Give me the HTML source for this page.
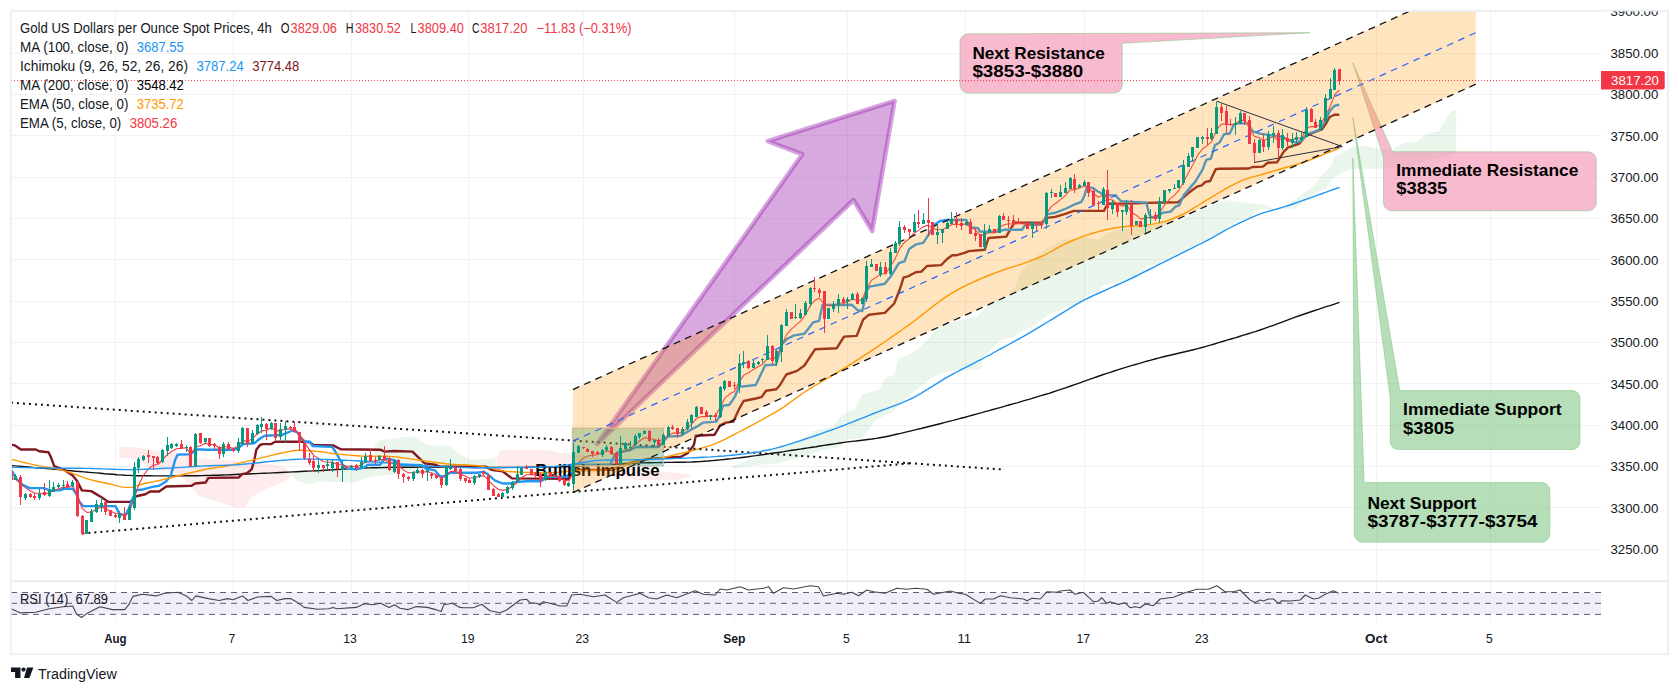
<!DOCTYPE html>
<html><head><meta charset="utf-8"><title>Gold chart</title><style>html,body{margin:0;padding:0;background:#fff}body{width:1679px;height:693px;overflow:hidden}</style></head><body>
<svg width="1679" height="693" viewBox="0 0 1679 693" style="display:block;font-family:'Liberation Sans',sans-serif">
<rect width="1679" height="693" fill="#fff"/>
<g stroke="#f1f2f3" stroke-width="1" shape-rendering="crispEdges">
<line x1="115.4" y1="11" x2="115.4" y2="621.5"/>
<line x1="233.0" y1="11" x2="233.0" y2="621.5"/>
<line x1="351.0" y1="11" x2="351.0" y2="621.5"/>
<line x1="468.7" y1="11" x2="468.7" y2="621.5"/>
<line x1="583.3" y1="11" x2="583.3" y2="621.5"/>
<line x1="734.4" y1="11" x2="734.4" y2="621.5"/>
<line x1="847.5" y1="11" x2="847.5" y2="621.5"/>
<line x1="965.3" y1="11" x2="965.3" y2="621.5"/>
<line x1="1084.3" y1="11" x2="1084.3" y2="621.5"/>
<line x1="1202.8" y1="11" x2="1202.8" y2="621.5"/>
<line x1="1376.2" y1="11" x2="1376.2" y2="621.5"/>
<line x1="1490.5" y1="11" x2="1490.5" y2="621.5"/>
<line x1="11" y1="549.5" x2="1601" y2="549.5"/>
<line x1="11" y1="507.5" x2="1601" y2="507.5"/>
<line x1="11" y1="466.5" x2="1601" y2="466.5"/>
<line x1="11" y1="425.5" x2="1601" y2="425.5"/>
<line x1="11" y1="383.5" x2="1601" y2="383.5"/>
<line x1="11" y1="342.5" x2="1601" y2="342.5"/>
<line x1="11" y1="301.5" x2="1601" y2="301.5"/>
<line x1="11" y1="259.5" x2="1601" y2="259.5"/>
<line x1="11" y1="218.5" x2="1601" y2="218.5"/>
<line x1="11" y1="177.5" x2="1601" y2="177.5"/>
<line x1="11" y1="135.5" x2="1601" y2="135.5"/>
<line x1="11" y1="94.5" x2="1601" y2="94.5"/>
<line x1="11" y1="53.5" x2="1601" y2="53.5"/>
<line x1="11" y1="11.5" x2="1601" y2="11.5"/>
</g>
<defs><clipPath id="pc"><rect x="12" y="12" width="1589" height="569"/></clipPath></defs>
<g clip-path="url(#pc)">
<polygon points="119.4,446.8 138.7,447.4 149.1,449.8 174.4,452.8 204.2,458.7 248.9,461.7 275.7,464.7 286.1,467.6 290.6,472.1 290.6,475.1 287.6,479.6 278.7,484.0 266.8,488.5 250.7,497.6 245.0,507.0 237.5,507.9 219.1,502.0 198.3,495.9 189.3,484.0 174.4,472.1 150.6,467.6 135.7,458.7 119.4,458.1" fill="rgba(242,54,69,0.10)"/>
<polygon points="497.0,458.0 500.0,450.3 551.0,450.3 560.0,453.0 573.0,453.5 600.0,458.0 640.0,470.0 690.0,474.0 690.0,476.0 680.0,480.0 640.0,480.0 600.0,475.0 573.0,470.0 540.0,467.0 497.0,467.0" fill="rgba(242,54,69,0.10)"/>
<polygon points="291.0,472.2 331.4,470.4 368.9,468.5 373.6,456.3 375.5,445.0 380.1,440.3 395.2,438.5 401.3,437.5 412.5,436.6 420.0,440.3 427.5,445.0 450.0,446.0 459.4,454.4 470.7,459.7 491.3,458.5 494.2,456.3 497.0,462.0 494.0,467.5 427.5,468.5 408.8,471.3 390.0,475.0 376.4,476.0 363.3,478.8 355.8,482.6 320.1,481.6 308.8,484.4 297.6,480.7 291.0,475.0" fill="rgba(67,160,71,0.11)"/>
<polygon points="732.2,466.5 768.3,452.1 804.4,437.7 815.2,430.4 833.2,426.8 840.4,416.0 854.9,408.8 862.1,394.4 880.1,388.9 885.5,378.1 894.6,374.5 898.2,358.3 909.0,354.7 919.8,347.4 927.1,340.2 937.9,327.6 959.5,320.4 977.6,316.8 983.0,309.5 995.6,300.5 1006.4,296.9 1015.5,286.1 1020.9,271.7 1028.1,264.5 1033.8,258.3 1046.8,247.9 1062.3,240.1 1085.7,237.5 1098.7,240.1 1106.5,233.6 1135.0,225.8 1155.8,224.5 1181.8,219.4 1202.6,209.0 1226.0,199.9 1240.0,202.2 1263.1,204.6 1274.6,209.4 1287.6,205.0 1297.7,197.8 1304.9,192.0 1315.0,184.8 1320.8,176.2 1326.6,171.1 1332.4,163.2 1333.8,157.4 1341.0,153.1 1346.8,150.2 1352.6,146.6 1364.1,145.9 1374.2,148.0 1380.0,148.8 1393.0,150.6 1395.2,147.3 1403.9,143.0 1416.8,141.9 1425.5,134.4 1438.5,131.1 1443.9,122.5 1449.3,113.8 1452.5,110.6 1456.2,109.9 1456.2,151.7 1449.3,155.0 1401.7,168.3 1351.1,169.0 1346.8,170.4 1341.0,173.3 1332.4,179.1 1326.6,187.7 1315.0,193.5 1306.4,200.7 1300.6,205.0 1294.8,208.6 1274.6,210.1 1263.1,209.1 1254.4,212.3 1251.5,216.6 1240.0,220.2 1228.6,225.8 1223.4,232.3 1202.6,241.4 1181.8,251.8 1155.8,264.8 1145.5,266.1 1142.9,273.9 1135.1,279.1 1114.3,283.0 1101.3,285.6 1098.7,292.1 1085.7,296.0 1083.1,302.5 1067.5,306.4 1062.3,310.3 1051.9,312.9 1041.6,319.4 1033.8,325.8 1019.5,332.3 1015.6,336.2 1000.0,340.0 983.0,358.3 981.2,369.1 948.7,370.9 934.3,376.3 912.6,392.5 891.0,412.4 876.5,419.6 862.1,437.7 847.7,439.5 840.4,446.7 822.4,450.3 804.4,455.7 779.1,462.9 732.2,468.3" fill="rgba(67,160,71,0.11)"/>
<polyline points="11.0,465.5 15.4,465.9 19.8,466.2 24.2,466.6 28.6,467.0 33.0,467.4 37.4,467.7 41.8,468.1 46.2,468.5 50.4,468.9 54.6,469.2 58.8,469.6 63.0,470.0 67.2,470.4 71.3,470.8 75.5,471.2 79.7,471.5 83.9,471.9 88.1,472.3 92.3,472.6 96.4,472.9 100.5,473.3 104.6,473.7 108.7,474.0 112.8,474.3 116.9,474.7 121.0,474.9 125.1,475.2 129.2,475.4 133.2,475.6 137.3,475.7 141.3,475.8 145.4,475.8 149.4,475.8 153.5,475.9 157.5,475.9 161.6,475.9 165.6,475.9 169.7,475.9 173.7,475.9 177.7,475.9 181.8,475.9 185.8,475.8 189.8,475.8 193.9,475.7 197.9,475.7 201.9,475.6 206.0,475.5 210.0,475.4 214.2,475.3 218.4,475.2 222.6,475.0 226.8,474.9 231.0,474.7 235.3,474.5 239.5,474.3 243.7,474.2 247.9,474.0 252.1,473.8 256.3,473.6 260.3,473.4 264.3,473.2 268.4,473.1 272.4,472.9 276.4,472.7 280.4,472.5 284.5,472.3 288.5,472.1 292.5,471.9 296.5,471.7 300.5,471.5 304.6,471.3 308.6,471.1 312.6,470.9 316.6,470.7 320.6,470.5 324.7,470.2 328.7,470.0 332.7,469.8 336.7,469.5 340.8,469.3 344.8,469.0 348.8,468.8 352.8,468.6 356.8,468.4 360.9,468.2 364.9,468.0 368.9,467.9 373.0,467.8 377.1,467.7 381.2,467.6 385.3,467.5 389.4,467.4 393.6,467.4 397.7,467.3 401.8,467.3 405.9,467.2 410.0,467.2 414.1,467.2 418.2,467.1 422.3,467.1 426.4,467.1 430.5,467.1 434.5,467.1 438.6,467.2 442.7,467.2 446.8,467.2 450.9,467.3 455.0,467.3 459.1,467.3 463.2,467.4 467.3,467.4 471.4,467.5 475.5,467.5 479.5,467.5 483.6,467.5 487.7,467.5 491.8,467.5 495.9,467.5 500.0,467.5 504.1,467.5 508.1,467.4 512.2,467.4 516.2,467.4 520.3,467.4 524.3,467.4 528.4,467.3 532.4,467.3 536.5,467.2 540.6,467.2 544.6,467.1 548.7,467.1 552.7,467.0 556.8,466.9 560.8,466.8 564.9,466.7 568.9,466.5 573.0,466.4 577.1,466.2 581.2,466.0 585.3,465.8 589.4,465.6 593.6,465.4 597.7,465.2 601.8,464.9 605.9,464.7 610.0,464.5 614.5,464.3 619.0,464.0 623.5,463.7 628.0,463.5 632.5,463.3 637.0,463.1 641.5,462.9 645.8,462.8 650.1,462.7 654.4,462.6 658.7,462.6 663.0,462.5 667.1,462.4 671.2,462.4 675.4,462.3 679.5,462.3 683.6,462.2 687.8,462.1 691.9,462.0 696.0,461.8 700.0,461.6 704.0,461.3 708.0,461.0 712.0,460.6 716.0,460.3 720.0,459.9 724.0,459.5 728.0,459.0 732.0,458.6 736.0,458.1 740.0,457.7 744.0,457.2 748.0,456.7 752.0,456.1 756.0,455.6 760.0,455.0 764.0,454.5 768.0,453.9 772.0,453.3 776.0,452.7 780.0,452.2 784.0,451.6 788.0,450.9 792.0,450.3 796.0,449.7 800.0,449.1 804.0,448.5 808.0,447.9 812.0,447.3 816.0,446.7 820.0,446.0 824.0,445.4 828.0,444.8 832.0,444.2 836.0,443.6 840.0,443.0 844.0,442.4 848.0,441.9 852.0,441.4 856.0,441.0 860.0,440.5 864.0,440.0 868.0,439.5 872.0,439.0 876.0,438.4 880.0,437.7 884.0,437.0 888.1,436.2 892.3,435.3 896.4,434.3 900.6,433.4 904.7,432.4 908.9,431.4 913.0,430.4 917.0,429.4 921.0,428.5 925.0,427.5 929.0,426.5 933.0,425.5 937.0,424.5 941.0,423.5 945.0,422.4 949.0,421.4 953.0,420.4 957.0,419.3 961.0,418.2 965.0,417.2 969.0,416.1 973.0,415.0 977.0,413.9 981.0,412.8 985.0,411.7 989.0,410.6 993.0,409.5 997.0,408.4 1001.0,407.3 1005.0,406.2 1009.0,405.0 1013.0,403.9 1017.0,402.8 1021.0,401.6 1025.0,400.4 1029.0,399.3 1033.0,398.1 1037.0,396.9 1041.0,395.7 1045.0,394.5 1049.0,393.3 1053.0,392.0 1057.0,390.7 1061.6,389.2 1066.2,387.6 1070.8,386.0 1075.4,384.4 1080.0,382.8 1084.4,381.2 1088.8,379.7 1093.2,378.1 1097.6,376.5 1102.0,375.0 1106.1,373.6 1110.2,372.3 1114.2,371.0 1118.3,369.7 1122.4,368.4 1126.5,367.2 1130.5,365.9 1134.6,364.7 1138.7,363.6 1142.8,362.4 1146.8,361.2 1150.9,360.1 1155.0,359.0 1159.3,357.9 1163.5,356.8 1167.8,355.8 1172.1,354.8 1176.4,353.8 1180.6,352.8 1184.9,351.8 1189.2,350.8 1193.5,349.7 1197.7,348.6 1202.0,347.5 1206.1,346.3 1210.3,345.2 1214.4,344.0 1218.6,342.7 1222.7,341.5 1226.9,340.2 1231.0,339.0 1235.1,337.8 1239.3,336.5 1243.4,335.2 1247.6,334.0 1251.7,332.7 1255.9,331.4 1260.0,330.0 1264.0,328.6 1268.0,327.2 1272.0,325.8 1276.0,324.3 1280.0,322.8 1284.0,321.3 1288.0,319.8 1292.0,318.4 1296.0,316.9 1300.0,315.5 1304.4,314.0 1308.8,312.5 1313.2,311.0 1317.6,309.6 1321.9,308.2 1326.3,306.7 1330.7,305.3 1335.1,303.8 1339.5,302.4" fill="none" stroke="#111" stroke-width="1.4"/>
<polyline points="11.1,444.7 15.0,445.4 20.8,449.5 35.8,449.5 39.2,451.2 48.5,452.3 50.8,456.9 54.2,466.2 63.5,469.6 72.7,475.4 77.3,481.2 81.9,490.4 91.2,491.1 101.5,497.3 108.5,501.9 130.4,501.9 136.2,496.2 145.4,494.3 150.0,491.5 159.2,491.5 166.2,486.5 191.6,485.8 195.0,483.5 203.1,482.8 205.6,482.6 208.4,477.9 238.5,477.5 242.2,474.1 246.9,473.2 251.6,469.4 254.4,460.0 256.3,449.7 260.0,445.0 262.9,444.1 271.3,444.1 275.1,441.7 305.1,441.7 309.8,442.2 313.5,445.0 333.2,445.4 340.7,449.2 380.1,449.7 384.8,451.6 393.8,451.0 412.5,451.6 418.1,457.2 424.7,463.4 435.0,464.7 439.7,466.6 485.7,466.6 491.3,469.8 502.6,471.3 512.0,478.4 568.3,478.8 572.0,472.2 573.5,470.0 612.0,469.7 620.0,466.4 634.3,461.8 648.6,458.9 663.0,457.9 681.0,456.8 688.0,452.9 693.9,445.0 695.7,435.7 714.5,434.8 720.1,425.4 725.8,422.6 733.3,421.6 738.9,409.4 743.6,401.0 755.8,398.5 761.4,397.2 766.1,390.7 776.4,389.2 780.0,385.0 786.3,374.5 797.1,370.9 804.4,365.5 815.2,349.2 836.8,348.2 844.0,336.6 856.7,335.9 863.2,319.5 868.8,314.8 884.8,312.9 894.2,303.5 899.8,289.5 903.6,277.3 908.2,276.3 915.8,272.2 921.4,271.6 927.0,266.0 941.1,265.1 947.7,258.5 952.3,255.3 956.1,255.3 964.5,252.9 968.8,251.1 984.7,249.8 988.5,238.0 1006.3,236.6 1011.0,228.2 1014.7,222.6 1041.9,222.6 1046.6,217.9 1055.1,216.9 1064.5,214.1 1073.9,210.9 1103.9,210.9 1107.6,203.8 1137.7,203.4 1146.3,202.9 1178.2,202.2 1181.9,198.8 1189.5,192.2 1197.0,186.6 1201.7,185.3 1205.4,181.9 1210.1,181.0 1215.7,169.2 1218.8,168.8 1248.8,168.5 1252.6,167.0 1262.9,166.6 1267.6,162.8 1277.0,162.3 1283.6,151.9 1288.2,147.3 1292.9,145.9 1299.5,143.5 1305.1,136.6 1309.8,134.1 1316.4,131.3 1322.0,129.4 1325.8,123.8 1329.5,117.2 1334.2,114.8 1339.3,114.8" fill="none" stroke="#801922" stroke-width="2.4" stroke-linejoin="round"/>
<polyline points="11.1,469.6 16.2,478.9 23.1,485.1 30.0,488.1 43.8,488.1 49.6,490.4 60.0,490.4 63.5,488.8 72.7,488.8 76.2,493.9 79.6,501.9 83.1,506.1 115.4,506.1 120.0,514.6 125.8,514.6 129.2,507.7 132.7,498.5 136.2,490.4 144.2,489.2 152.3,486.9 159.2,485.8 166.2,481.2 170.8,475.4 175.4,459.2 177.7,454.6 190.4,454.2 196.2,449.5 203.1,449.5 203.8,449.7 232.8,449.7 237.5,448.8 243.2,444.1 254.4,443.2 260.0,438.5 264.7,435.7 275.1,435.3 282.6,434.7 293.8,430.0 297.6,432.8 301.3,438.5 305.1,441.7 309.8,441.7 312.6,446.0 332.3,446.9 337.0,454.4 342.6,464.7 347.3,468.5 355.8,469.4 363.3,467.9 367.9,464.7 380.1,464.7 384.8,458.5 395.2,460.4 398.9,464.7 404.1,464.7 421.9,465.3 425.7,468.5 435.0,470.4 439.7,476.0 444.4,476.6 450.0,472.8 476.3,472.8 483.8,471.9 487.6,474.1 495.1,480.7 502.6,483.5 510.1,483.5 516.0,482.1 525.8,481.3 540.8,481.3 543.0,480.0 545.4,476.9 566.8,476.9 570.8,472.3 571.5,464.8 610.3,464.8 614.1,456.3 616.9,452.6 630.0,450.3 635.7,447.3 645.1,447.0 658.2,447.0 662.9,442.3 667.6,436.6 680.7,435.7 690.1,430.1 697.6,426.3 703.2,422.6 716.4,421.6 720.1,415.1 722.9,405.7 729.5,404.7 735.1,396.3 738.9,386.9 755.8,385.0 765.2,365.3 774.5,364.8 775.9,364.8 781.9,344.1 787.1,338.9 794.1,335.4 804.4,333.7 813.1,322.4 819.1,320.8 822.5,305.0 851.9,304.8 857.6,310.1 862.3,311.0 864.1,302.6 866.0,291.3 869.8,286.6 884.8,283.8 891.4,275.4 898.9,263.2 904.5,261.3 909.2,249.1 915.8,244.4 923.3,242.9 928.9,234.1 934.5,224.7 940.1,221.0 947.7,220.0 966.4,220.0 970.6,227.3 978.1,228.2 980.0,231.6 998.8,231.6 1004.4,229.7 1022.2,229.7 1025.1,224.8 1041.9,224.8 1047.6,214.1 1055.1,212.8 1066.3,208.5 1073.9,204.7 1081.4,201.9 1084.2,196.3 1087.0,186.9 1092.8,187.9 1097.5,191.3 1105.0,195.1 1115.3,195.4 1121.0,201.1 1146.3,202.6 1149.1,213.8 1151.0,217.2 1157.6,217.2 1162.2,212.9 1170.7,211.6 1175.4,206.7 1179.1,205.4 1183.8,195.1 1195.1,181.9 1202.6,169.7 1206.3,159.8 1211.0,158.5 1214.8,145.3 1219.5,142.5 1224.2,134.1 1229.8,133.5 1233.8,124.7 1237.6,123.4 1247.9,123.4 1252.6,131.3 1260.1,133.6 1271.4,135.4 1282.6,136.9 1290.1,140.7 1295.8,142.6 1301.4,140.7 1307.0,134.1 1314.5,131.7 1320.1,129.4 1325.8,120.0 1329.5,111.6 1334.2,106.0 1339.3,104.7" fill="none" stroke="#2196f3" stroke-width="2.4" stroke-linejoin="round"/>
<polyline points="11.0,459.2 15.7,460.4 20.4,461.6 25.2,462.8 29.9,463.9 34.6,465.0 38.9,465.9 43.2,466.6 47.5,467.3 51.7,468.0 56.0,468.8 60.3,469.7 64.6,470.8 69.2,472.3 73.8,473.9 78.5,475.7 83.1,477.4 87.7,478.9 92.3,480.1 96.9,481.2 101.6,482.2 106.2,483.2 110.8,484.2 115.4,485.4 120.0,486.6 124.6,487.4 131.5,487.4 138.5,485.1 143.1,483.8 147.7,482.8 152.4,481.9 157.0,481.0 161.6,480.0 166.2,478.9 170.8,477.7 175.4,476.5 180.0,475.3 184.6,474.2 188.8,473.2 193.1,472.2 197.3,471.2 201.5,470.2 205.8,469.3 210.0,468.5 214.5,467.8 219.1,467.1 223.6,466.5 228.1,465.7 232.1,464.9 236.2,464.0 240.2,463.1 244.2,462.1 248.2,461.1 252.3,460.1 256.3,459.1 260.3,458.1 264.3,457.1 268.3,456.1 272.4,455.1 276.4,454.2 280.4,453.3 284.4,452.5 288.8,451.6 293.2,450.8 297.6,450.3 302.6,450.3 307.6,450.6 312.6,451.0 316.6,451.4 320.6,451.8 324.6,452.3 328.7,452.9 332.7,453.5 336.7,454.0 340.7,454.4 344.7,454.8 348.8,455.1 352.8,455.4 356.8,455.7 360.8,456.0 364.9,456.2 368.9,456.3 373.6,456.3 378.3,456.3 383.0,456.2 387.7,456.3 392.0,456.6 396.4,457.0 400.7,457.5 405.1,458.1 409.4,458.8 413.8,459.4 418.1,460.0 422.1,460.5 426.2,461.1 430.2,461.7 434.2,462.3 438.2,462.8 442.3,463.3 446.3,463.8 450.5,464.2 454.6,464.4 458.8,464.6 463.0,464.8 467.1,465.0 471.3,465.2 475.5,465.5 479.6,466.0 483.8,466.6 488.5,467.6 493.2,468.8 497.9,470.0 502.6,470.9 507.3,471.5 512.0,471.8 516.7,472.0 521.4,472.2 525.6,472.4 529.7,472.5 533.9,472.6 538.1,472.7 542.2,472.7 546.4,472.7 550.6,472.6 554.7,472.4 558.9,472.2 563.6,471.8 568.3,471.3 573.0,470.8 577.7,470.4 582.2,470.2 586.6,470.2 591.1,470.2 595.5,470.1 600.0,470.0 604.0,469.9 608.0,469.9 612.0,469.3 616.0,468.0 620.0,466.5 624.7,465.0 629.3,463.5 634.0,462.3 638.9,461.3 643.7,460.5 648.6,459.7 653.4,459.0 658.2,458.3 663.0,457.5 667.7,456.5 672.3,455.4 677.0,454.3 682.0,453.1 687.0,452.0 692.0,450.7 696.1,449.6 700.1,448.5 704.2,447.4 708.3,446.1 712.3,444.8 716.4,443.2 720.9,441.2 725.4,439.1 729.9,436.7 734.4,434.4 738.9,432.0 743.6,429.6 748.3,427.1 753.0,424.6 757.7,422.0 762.2,419.6 766.6,417.2 771.1,414.7 775.5,412.1 780.0,409.4 784.0,406.8 788.0,403.9 792.0,401.0 796.0,398.1 800.0,395.2 804.0,392.5 808.0,389.9 812.0,387.4 816.0,385.0 820.0,382.7 824.0,380.4 828.0,378.0 832.0,375.7 836.0,373.3 840.0,370.9 844.1,368.4 848.1,365.8 852.2,363.3 856.2,360.7 860.3,358.1 864.3,355.4 868.4,352.8 872.4,350.1 876.5,347.4 880.5,344.7 884.5,342.0 888.5,339.2 892.5,336.4 896.6,333.6 900.6,330.8 904.6,328.0 908.6,325.1 912.6,322.2 916.6,319.2 920.6,316.1 924.6,313.0 928.6,309.8 932.7,306.6 936.7,303.5 940.7,300.6 944.7,297.7 948.7,295.1 952.7,292.7 956.7,290.4 960.7,288.2 964.7,286.1 968.8,284.2 972.8,282.3 976.8,280.5 980.8,278.7 984.8,277.0 989.7,275.0 994.6,273.1 999.5,271.3 1004.4,269.5 1008.5,268.1 1012.6,266.8 1016.8,265.6 1020.9,264.3 1025.0,262.9 1029.7,261.2 1034.4,259.4 1039.1,257.5 1043.8,255.4 1048.5,253.0 1053.2,250.3 1057.9,247.6 1062.6,245.1 1067.1,243.0 1071.6,241.0 1076.1,239.1 1080.6,237.3 1085.1,235.7 1089.2,234.3 1093.4,233.0 1097.5,231.8 1101.7,230.7 1105.8,229.7 1110.3,228.8 1114.8,228.0 1119.3,227.4 1123.8,226.8 1128.3,226.3 1132.8,226.0 1137.3,225.8 1141.8,225.5 1146.3,225.1 1151.0,224.4 1155.7,223.6 1160.4,222.6 1165.1,221.3 1169.8,219.8 1174.4,218.0 1179.1,216.0 1183.8,213.8 1188.5,211.3 1193.2,208.4 1197.9,205.5 1202.6,202.6 1207.3,199.7 1212.0,196.9 1216.7,194.0 1221.4,191.3 1225.9,188.7 1230.4,186.2 1234.9,183.8 1239.4,181.6 1243.9,179.7 1248.9,178.1 1253.9,176.7 1258.9,175.4 1263.6,174.0 1268.3,172.5 1273.0,171.1 1277.7,169.7 1282.2,168.5 1286.6,167.3 1291.1,166.1 1295.5,164.9 1300.0,163.5 1304.2,162.1 1308.4,160.5 1312.6,158.9 1316.9,157.2 1321.1,155.5 1325.3,153.7 1329.5,152.0 1334.5,150.0 1339.5,147.9" fill="none" stroke="#ff9800" stroke-width="1.4"/>
<polyline points="11.2,479.5 15.9,478.3 20.7,484.4 25.4,487.6 30.1,490.8 34.8,493.1 39.6,493.3 44.3,493.9 49.0,492.7 53.8,490.8 58.5,488.7 63.2,487.4 67.9,487.2 72.7,485.4 77.4,495.8 82.1,508.4 86.8,512.4 91.6,512.0 96.3,509.2 101.0,507.0 105.8,508.8 110.5,511.1 115.2,513.2 119.9,513.5 124.7,515.6 129.4,512.6 134.1,497.5 138.8,484.7 143.6,475.1 148.3,469.0 153.0,465.4 157.8,464.5 162.5,459.7 167.2,454.9 171.9,451.3 176.7,448.7 181.4,448.4 186.1,447.8 190.8,453.9 195.6,447.2 200.3,445.8 205.0,443.4 209.7,444.2 214.5,444.8 219.2,448.0 223.9,446.5 228.7,447.3 233.4,448.4 238.1,446.3 242.8,440.3 247.6,441.6 252.3,438.6 257.0,434.2 261.7,430.9 266.5,430.3 271.2,427.8 275.9,431.1 280.7,430.4 285.4,428.9 290.1,428.7 294.8,429.9 299.6,434.3 304.3,442.3 309.0,449.1 313.7,455.4 318.5,458.5 323.2,461.5 327.9,462.3 332.6,462.2 337.4,464.5 342.1,465.0 346.8,466.2 351.6,466.0 356.3,466.8 361.0,465.2 365.7,462.1 370.5,461.7 375.2,461.4 379.9,459.5 384.6,459.6 389.4,463.2 394.1,462.5 398.8,466.3 403.6,469.9 408.3,472.9 413.0,472.5 417.7,471.6 422.5,472.2 427.2,471.6 431.9,473.1 436.6,474.9 441.4,478.4 446.1,474.1 450.8,471.6 455.6,471.4 460.3,473.9 465.0,476.1 469.7,478.3 474.5,477.5 479.2,476.4 483.9,475.6 488.6,480.3 493.4,485.4 498.1,489.2 502.8,490.4 507.5,489.2 512.3,486.7 517.0,482.5 521.7,477.5 526.5,474.7 531.2,474.8 535.9,474.9 540.6,476.8 545.4,475.3 550.1,475.7 554.8,475.9 559.5,477.6 564.3,480.2 569.0,481.0 573.7,471.5 578.5,463.0 583.2,458.1 587.9,456.0 592.6,455.2 597.4,454.6 602.1,453.0 606.8,450.9 611.5,452.1 616.3,456.0 621.0,453.3 625.7,449.9 630.4,448.9 635.2,444.5 639.9,440.8 644.6,437.6 649.4,438.8 654.1,439.3 658.8,441.3 663.5,439.1 668.3,435.0 673.0,433.1 677.7,433.3 682.4,431.7 687.2,428.4 691.9,423.9 696.6,418.2 701.4,416.6 706.1,416.6 710.8,416.1 715.5,416.2 720.3,406.5 725.0,397.9 729.7,394.1 734.4,391.4 739.2,381.9 743.9,375.1 748.6,372.7 753.4,369.4 758.1,366.8 762.8,364.1 767.5,358.1 772.3,359.1 777.0,356.5 781.7,346.0 786.4,334.6 791.2,329.3 795.9,325.1 800.6,321.2 805.3,315.0 810.1,306.0 814.8,300.4 819.5,298.0 824.3,304.8 829.0,305.8 833.7,305.4 838.4,303.2 843.2,303.0 847.9,301.6 852.6,299.1 857.3,300.6 862.1,299.7 866.8,288.5 871.5,280.3 876.3,277.1 881.0,273.7 885.7,273.7 890.4,266.3 895.2,258.7 899.9,248.2 904.6,242.2 909.3,238.7 914.1,233.2 918.8,230.1 923.5,226.6 928.3,225.3 933.0,228.6 937.7,229.8 942.4,229.5 947.2,227.3 951.9,224.5 956.6,224.3 961.3,224.9 966.1,223.8 970.8,227.1 975.5,230.1 980.2,235.7 985.0,234.3 989.7,232.6 994.4,232.9 999.2,227.3 1003.9,224.9 1008.6,223.7 1013.3,224.0 1018.1,223.8 1022.8,223.8 1027.5,225.4 1032.2,224.1 1037.0,224.1 1041.7,224.3 1046.4,213.9 1051.2,206.6 1055.9,203.3 1060.6,199.6 1065.3,195.7 1070.1,189.9 1074.8,189.7 1079.5,188.1 1084.2,186.0 1089.0,188.2 1093.7,193.7 1098.4,197.3 1103.2,194.7 1107.9,199.2 1112.6,200.0 1117.3,204.0 1122.1,206.1 1126.8,205.4 1131.5,212.3 1136.2,215.2 1141.0,219.1 1145.7,217.9 1150.4,217.4 1155.1,218.1 1159.9,212.3 1164.6,204.8 1169.3,199.7 1174.1,195.6 1178.8,190.4 1183.5,182.0 1188.2,173.2 1193.0,164.6 1197.7,155.2 1202.4,149.0 1207.1,145.6 1211.9,141.3 1216.6,129.9 1221.3,124.1 1226.1,124.3 1230.8,124.5 1235.5,124.0 1240.2,120.2 1245.0,120.4 1249.7,128.1 1254.4,136.4 1259.1,137.7 1263.9,140.7 1268.6,138.3 1273.3,136.6 1278.0,140.3 1282.8,138.6 1287.5,139.6 1292.2,139.3 1297.0,138.5 1301.7,137.9 1306.4,128.5 1311.1,126.4 1315.9,126.8 1320.6,124.6 1325.3,115.9 1330.0,106.9 1334.8,94.5 1339.5,90.0" fill="none" stroke="#f23645" stroke-width="1.1" stroke-linejoin="round"/>
<text x="535.3" y="475.6" font-size="16.9" font-weight="700" fill="#000" textLength="124.2" lengthAdjust="spacingAndGlyphs">Bullish Impulse</text>
<g stroke="#111" stroke-width="2" stroke-dasharray="2 4" fill="none">
<line x1="11" y1="402.7" x2="1001.5" y2="469.4"/>
<line x1="82.4" y1="533.5" x2="910.5" y2="463.3"/>
</g>
<path d="M968,33.8 L1310,32.7 L1122.2,43.3 L1122.2,85.1 A8,8 0 0 1 1114.2,93.1 L968,93.1 A8,8 0 0 1 960,85.1 L960,41.8 A8,8 0 0 1 968,33.8 Z" fill="rgba(244,143,177,0.62)" stroke="rgba(129,199,132,0.55)" stroke-width="1" stroke-linejoin="round"/>
<path d="M1392.6,151.8 L1588.3,151.8 A8,8 0 0 1 1596.3,159.8 L1596.3,202.7 A8,8 0 0 1 1588.3,210.7 L1391.5,210.7 A8,8 0 0 1 1383.5,202.7 L1383.5,157 L1352.8,62.8 Z" fill="rgba(244,143,177,0.62)" stroke="rgba(129,199,132,0.55)" stroke-width="1" stroke-linejoin="round"/>
<path d="M1399.8,390.6 L1572,390.6 A8,8 0 0 1 1580,398.6 L1580,441.5 A8,8 0 0 1 1572,449.5 L1398.2,449.5 A8,8 0 0 1 1390.2,441.5 L1390.2,397.4 L1352.8,117.5 Z" fill="rgba(129,199,132,0.58)" stroke="rgba(129,199,132,0.55)" stroke-width="1" stroke-linejoin="round"/>
<path d="M1364.1,482.5 L1541.8,482.5 A8,8 0 0 1 1549.8,490.5 L1549.8,534.2 A8,8 0 0 1 1541.8,542.2 L1362.3,542.2 A8,8 0 0 1 1354.3,534.2 L1354.3,490 L1352.8,158 Z" fill="rgba(129,199,132,0.58)" stroke="rgba(129,199,132,0.55)" stroke-width="1" stroke-linejoin="round"/>
<path d="M597.2,443.7 L802.3,154.3 L767.7,141.2 L894.6,100.8 L872.2,231.2 L853.5,200 Z" fill="rgba(156,39,176,0.40)" stroke="rgba(156,39,176,0.42)" stroke-width="4.5" stroke-linejoin="round"/>
<rect x="572.6" y="428.3" width="90.8" height="37.6" fill="rgba(8,153,129,0.30)" stroke="#c6c3b8" stroke-width="1.4"/>
<polygon points="572.9,389.6 1409.3,11.3 1475.8,11.3 1475.8,84.2 572.9,492.6" fill="rgba(255,152,0,0.25)"/>
<line x1="572.9" y1="389.6" x2="1409.3" y2="11.3" stroke="#111" stroke-width="1.3" stroke-dasharray="7 5.3"/>
<line x1="572.9" y1="492.6" x2="1475.8" y2="84.2" stroke="#111" stroke-width="1.3" stroke-dasharray="7 5.3"/>
<line x1="572.9" y1="441.1" x2="1475.8" y2="32.7" stroke="#2962ff" stroke-width="1.2" stroke-dasharray="6.7 5.6"/>
<path d="M1216.6,101.2 L1342.3,146.6 L1254,162.5" fill="none" stroke="#2a2e39" stroke-width="1"/>
<polyline points="11.0,467.3 15.4,467.4 19.8,467.5 24.2,467.6 28.6,467.7 33.0,467.8 37.4,467.8 41.8,467.9 46.2,468.0 50.4,468.1 54.6,468.1 58.8,468.1 63.0,468.2 67.2,468.2 71.3,468.2 75.5,468.3 79.7,468.3 83.9,468.4 88.1,468.4 92.3,468.5 96.4,468.6 100.5,468.8 104.6,468.9 108.7,469.1 112.8,469.2 116.9,469.4 121.0,469.5 125.1,469.6 129.2,469.6 133.2,469.6 137.3,469.5 141.3,469.4 145.4,469.2 149.4,469.0 153.5,468.9 157.5,468.7 161.6,468.5 165.6,468.3 169.7,468.1 173.7,467.9 177.7,467.6 181.8,467.4 185.8,467.1 189.8,466.8 193.9,466.6 197.9,466.3 201.9,466.1 206.0,465.9 210.0,465.7 214.6,465.5 219.2,465.4 223.8,465.3 228.3,465.1 232.9,464.9 237.5,464.7 241.7,464.4 245.8,464.0 250.0,463.6 254.2,463.2 258.3,462.7 262.5,462.2 266.7,461.8 270.8,461.4 275.0,461.0 279.4,460.6 283.8,460.2 288.1,459.9 292.5,459.5 296.9,459.3 301.3,459.1 305.6,459.0 309.9,459.0 314.2,459.1 318.5,459.2 322.8,459.4 327.1,459.5 331.4,459.7 335.6,459.8 339.7,460.0 343.9,460.2 348.1,460.4 352.2,460.6 356.4,460.8 360.6,461.0 364.7,461.2 368.9,461.5 373.0,461.8 377.1,462.1 381.2,462.4 385.3,462.7 389.4,463.1 393.6,463.4 397.7,463.7 401.8,464.1 405.9,464.4 410.0,464.7 414.0,465.0 418.1,465.3 422.1,465.6 426.1,465.8 430.2,466.1 434.2,466.4 438.2,466.6 442.3,466.8 446.3,467.0 450.3,467.2 454.3,467.3 458.4,467.4 462.4,467.5 466.4,467.6 470.4,467.6 474.5,467.7 478.5,467.7 482.5,467.7 486.5,467.7 490.5,467.7 494.6,467.7 498.6,467.6 502.6,467.6 506.6,467.6 510.6,467.6 514.7,467.6 518.7,467.5 522.7,467.5 526.7,467.5 530.8,467.5 534.8,467.4 538.8,467.3 542.8,467.1 546.8,466.9 550.9,466.7 554.9,466.4 558.9,466.0 564.5,465.4 570.0,464.7 574.8,463.9 579.5,463.0 584.3,462.2 589.1,461.5 593.8,460.9 598.6,460.4 602.9,460.1 607.2,460.0 611.4,460.0 615.7,460.0 620.0,460.0 624.3,459.9 628.6,459.9 632.9,459.9 637.2,459.8 641.5,459.7 645.8,459.6 650.1,459.4 654.4,459.2 658.7,459.1 663.0,458.9 667.5,458.7 672.0,458.6 676.5,458.4 681.0,458.3 685.5,458.1 690.0,457.9 694.2,457.7 698.4,457.5 702.6,457.3 706.8,457.1 711.0,456.9 715.2,456.6 719.4,456.3 723.6,456.0 727.8,455.6 732.0,455.2 736.0,454.8 740.0,454.3 744.0,453.9 748.0,453.4 752.0,452.8 756.0,452.2 760.0,451.6 764.0,450.8 768.0,450.0 772.0,449.1 776.0,448.1 780.0,447.0 784.0,445.8 788.0,444.6 792.0,443.4 796.0,442.1 800.0,440.8 804.0,439.5 808.0,438.2 812.0,436.9 816.0,435.5 820.0,434.1 824.0,432.7 828.0,431.2 832.0,429.8 836.0,428.3 840.0,426.8 844.1,425.3 848.1,423.7 852.2,422.1 856.2,420.5 860.3,418.9 864.3,417.3 868.4,415.6 872.4,414.0 876.5,412.4 880.5,410.8 884.5,409.4 888.5,407.9 892.5,406.4 896.6,404.9 900.6,403.3 904.6,401.7 908.6,399.9 912.6,398.0 916.6,395.9 920.6,393.6 924.6,391.2 928.6,388.7 932.7,386.1 936.7,383.6 940.7,381.1 944.7,378.6 948.7,376.3 952.7,374.1 956.7,372.0 960.7,369.9 964.7,367.8 968.8,365.8 972.8,363.8 976.8,361.7 980.8,359.6 984.8,357.5 989.9,354.8 994.9,352.0 1000.0,349.2 1004.3,346.8 1008.7,344.5 1013.0,342.1 1017.3,339.8 1021.7,337.4 1026.0,334.9 1030.3,332.4 1034.6,329.8 1039.0,327.2 1043.3,324.6 1047.6,322.0 1051.9,319.4 1056.0,316.9 1060.0,314.4 1064.1,311.9 1068.2,309.3 1072.2,306.8 1076.3,304.4 1080.3,302.1 1084.4,299.9 1089.3,297.5 1094.2,295.2 1099.0,293.0 1103.9,290.8 1108.2,288.8 1112.6,286.9 1116.9,285.0 1121.2,283.1 1125.6,281.1 1129.9,279.1 1134.2,277.0 1138.5,274.9 1142.8,272.7 1147.2,270.5 1151.5,268.3 1155.8,266.1 1160.1,263.9 1164.5,261.8 1168.8,259.6 1173.1,257.4 1177.5,255.3 1181.8,253.1 1186.1,250.9 1190.5,248.8 1194.8,246.7 1199.1,244.5 1203.5,242.3 1207.8,240.1 1212.1,237.8 1216.5,235.3 1220.8,232.9 1225.1,230.4 1229.5,228.0 1233.8,225.8 1238.1,223.7 1242.4,221.6 1246.8,219.6 1251.1,217.7 1255.4,215.9 1259.7,214.2 1264.0,212.7 1268.4,211.4 1272.7,210.1 1277.0,209.0 1281.4,207.7 1285.7,206.4 1290.0,205.0 1294.4,203.5 1298.7,201.9 1303.0,200.4 1307.4,198.8 1311.7,197.3 1316.3,195.6 1321.0,194.0 1325.6,192.3 1330.2,190.6 1334.9,189.0 1339.5,187.3" fill="none" stroke="#2196f3" stroke-width="1.4"/>
<g fill="#089981"><rect x="1334" y="68.0" width="1" height="22.0"/><rect x="1333" y="70.0" width="3" height="20.0"/><rect x="1330" y="78.0" width="1" height="21.0"/><rect x="1329" y="89.0" width="3" height="10.0"/><rect x="1325" y="94.0" width="1" height="28.0"/><rect x="1324" y="98.0" width="3" height="24.0"/><rect x="1320" y="117.0" width="1" height="13.0"/><rect x="1319" y="120.0" width="3" height="10.0"/><rect x="1306" y="107.0" width="1" height="30.0"/><rect x="1305" y="110.0" width="3" height="27.0"/><rect x="1301" y="131.0" width="1" height="10.0"/><rect x="1300" y="137.0" width="3" height="3.0"/><rect x="1296" y="132.0" width="1" height="12.0"/><rect x="1295" y="137.0" width="3" height="3.0"/><rect x="1292" y="133.0" width="1" height="15.0"/><rect x="1291" y="139.0" width="3" height="4.0"/><rect x="1282" y="129.0" width="1" height="21.0"/><rect x="1281" y="135.0" width="3" height="13.0"/><rect x="1273" y="126.0" width="1" height="17.0"/><rect x="1272" y="133.0" width="3" height="2.0"/><rect x="1268" y="131.0" width="1" height="19.0"/><rect x="1267" y="134.0" width="3" height="13.0"/><rect x="1259" y="139.0" width="1" height="14.0"/><rect x="1258" y="140.0" width="3" height="13.0"/><rect x="1240" y="111.0" width="1" height="13.0"/><rect x="1239" y="113.0" width="3" height="11.0"/><rect x="1235" y="117.0" width="1" height="18.0"/><rect x="1234" y="123.0" width="3" height="2.0"/><rect x="1216" y="102.0" width="1" height="32.0"/><rect x="1215" y="107.0" width="3" height="27.0"/><rect x="1211" y="128.0" width="1" height="12.0"/><rect x="1210" y="133.0" width="3" height="6.0"/><rect x="1202" y="136.0" width="1" height="8.0"/><rect x="1201" y="137.0" width="3" height="2.0"/><rect x="1197" y="137.0" width="1" height="11.0"/><rect x="1196" y="137.0" width="3" height="11.0"/><rect x="1192" y="147.0" width="1" height="15.0"/><rect x="1191" y="147.0" width="3" height="10.0"/><rect x="1188" y="153.0" width="1" height="14.0"/><rect x="1187" y="156.0" width="3" height="11.0"/><rect x="1183" y="160.0" width="1" height="25.0"/><rect x="1182" y="165.0" width="3" height="18.0"/><rect x="1178" y="180.0" width="1" height="8.0"/><rect x="1177" y="180.0" width="3" height="8.0"/><rect x="1174" y="184.0" width="1" height="5.0"/><rect x="1173" y="188.0" width="3" height="1.0"/><rect x="1169" y="189.0" width="1" height="4.0"/><rect x="1168" y="189.0" width="3" height="2.0"/><rect x="1164" y="190.0" width="1" height="13.0"/><rect x="1163" y="190.0" width="3" height="13.0"/><rect x="1159" y="197.0" width="1" height="26.0"/><rect x="1158" y="201.0" width="3" height="18.0"/><rect x="1150" y="209.0" width="1" height="15.0"/><rect x="1149" y="217.0" width="3" height="1.0"/><rect x="1145" y="213.0" width="1" height="20.0"/><rect x="1144" y="215.0" width="3" height="12.0"/><rect x="1136" y="221.0" width="1" height="4.0"/><rect x="1135" y="221.0" width="3" height="4.0"/><rect x="1126" y="200.0" width="1" height="15.0"/><rect x="1125" y="204.0" width="3" height="8.0"/><rect x="1122" y="210.0" width="1" height="21.0"/><rect x="1121" y="210.0" width="3" height="2.0"/><rect x="1112" y="200.0" width="1" height="14.0"/><rect x="1111" y="202.0" width="3" height="7.0"/><rect x="1103" y="187.0" width="1" height="18.0"/><rect x="1102" y="189.0" width="3" height="16.0"/><rect x="1084" y="180.0" width="1" height="6.0"/><rect x="1083" y="182.0" width="3" height="4.0"/><rect x="1079" y="184.0" width="1" height="4.0"/><rect x="1078" y="185.0" width="3" height="3.0"/><rect x="1070" y="177.0" width="1" height="12.0"/><rect x="1069" y="178.0" width="3" height="11.0"/><rect x="1065" y="182.0" width="1" height="11.0"/><rect x="1064" y="188.0" width="3" height="5.0"/><rect x="1060" y="185.0" width="1" height="12.0"/><rect x="1059" y="192.0" width="3" height="5.0"/><rect x="1051" y="189.0" width="1" height="9.0"/><rect x="1050" y="192.0" width="3" height="1.0"/><rect x="1046" y="192.0" width="1" height="37.0"/><rect x="1045" y="193.0" width="3" height="31.0"/><rect x="1032" y="222.0" width="1" height="16.0"/><rect x="1031" y="222.0" width="3" height="7.0"/><rect x="999" y="215.0" width="1" height="18.0"/><rect x="998" y="216.0" width="3" height="17.0"/><rect x="989" y="225.0" width="1" height="8.0"/><rect x="988" y="229.0" width="3" height="4.0"/><rect x="984" y="224.0" width="1" height="26.0"/><rect x="983" y="232.0" width="3" height="15.0"/><rect x="966" y="221.0" width="1" height="5.0"/><rect x="965" y="222.0" width="3" height="3.0"/><rect x="951" y="212.0" width="1" height="12.0"/><rect x="950" y="219.0" width="3" height="5.0"/><rect x="947" y="220.0" width="1" height="9.0"/><rect x="946" y="223.0" width="3" height="6.0"/><rect x="942" y="229.0" width="1" height="14.0"/><rect x="941" y="229.0" width="3" height="4.0"/><rect x="937" y="226.0" width="1" height="18.0"/><rect x="936" y="232.0" width="3" height="3.0"/><rect x="923" y="213.0" width="1" height="11.0"/><rect x="922" y="220.0" width="3" height="4.0"/><rect x="914" y="214.0" width="1" height="18.0"/><rect x="913" y="222.0" width="3" height="10.0"/><rect x="899" y="221.0" width="1" height="25.0"/><rect x="898" y="227.0" width="3" height="17.0"/><rect x="895" y="241.0" width="1" height="12.0"/><rect x="894" y="243.0" width="3" height="10.0"/><rect x="890" y="248.0" width="1" height="27.0"/><rect x="889" y="252.0" width="3" height="22.0"/><rect x="880" y="262.0" width="1" height="15.0"/><rect x="879" y="267.0" width="3" height="8.0"/><rect x="871" y="259.0" width="1" height="8.0"/><rect x="870" y="264.0" width="3" height="3.0"/><rect x="866" y="261.0" width="1" height="41.0"/><rect x="865" y="266.0" width="3" height="33.0"/><rect x="862" y="298.0" width="1" height="6.0"/><rect x="861" y="298.0" width="3" height="6.0"/><rect x="852" y="293.0" width="1" height="7.0"/><rect x="851" y="294.0" width="3" height="6.0"/><rect x="847" y="297.0" width="1" height="12.0"/><rect x="846" y="299.0" width="3" height="3.0"/><rect x="838" y="294.0" width="1" height="19.0"/><rect x="837" y="299.0" width="3" height="6.0"/><rect x="833" y="301.0" width="1" height="11.0"/><rect x="832" y="304.0" width="3" height="5.0"/><rect x="828" y="308.0" width="1" height="11.0"/><rect x="827" y="308.0" width="3" height="11.0"/><rect x="810" y="287.0" width="1" height="20.0"/><rect x="809" y="288.0" width="3" height="16.0"/><rect x="805" y="301.0" width="1" height="14.0"/><rect x="804" y="303.0" width="3" height="12.0"/><rect x="800" y="309.0" width="1" height="10.0"/><rect x="799" y="313.0" width="3" height="5.0"/><rect x="795" y="304.0" width="1" height="15.0"/><rect x="794" y="317.0" width="3" height="1.0"/><rect x="786" y="309.0" width="1" height="17.0"/><rect x="785" y="312.0" width="3" height="14.0"/><rect x="781" y="324.0" width="1" height="38.0"/><rect x="780" y="325.0" width="3" height="27.0"/><rect x="776" y="350.0" width="1" height="16.0"/><rect x="775" y="351.0" width="3" height="11.0"/><rect x="767" y="335.0" width="1" height="25.0"/><rect x="766" y="346.0" width="3" height="14.0"/><rect x="762" y="358.0" width="1" height="5.0"/><rect x="761" y="359.0" width="3" height="1.0"/><rect x="758" y="361.0" width="1" height="4.0"/><rect x="757" y="362.0" width="3" height="2.0"/><rect x="753" y="359.0" width="1" height="9.0"/><rect x="752" y="363.0" width="3" height="5.0"/><rect x="743" y="351.0" width="1" height="17.0"/><rect x="742" y="362.0" width="3" height="2.0"/><rect x="739" y="354.0" width="1" height="39.0"/><rect x="738" y="363.0" width="3" height="23.0"/><rect x="724" y="380.0" width="1" height="11.0"/><rect x="723" y="381.0" width="3" height="8.0"/><rect x="720" y="386.0" width="1" height="32.0"/><rect x="719" y="387.0" width="3" height="30.0"/><rect x="710" y="415.0" width="1" height="5.0"/><rect x="709" y="415.0" width="3" height="2.0"/><rect x="696" y="406.0" width="1" height="11.0"/><rect x="695" y="407.0" width="3" height="10.0"/><rect x="691" y="414.0" width="1" height="15.0"/><rect x="690" y="415.0" width="3" height="8.0"/><rect x="687" y="419.0" width="1" height="11.0"/><rect x="686" y="422.0" width="3" height="7.0"/><rect x="682" y="427.0" width="1" height="8.0"/><rect x="681" y="429.0" width="3" height="5.0"/><rect x="668" y="426.0" width="1" height="10.0"/><rect x="667" y="427.0" width="3" height="9.0"/><rect x="663" y="433.0" width="1" height="12.0"/><rect x="662" y="435.0" width="3" height="10.0"/><rect x="654" y="440.0" width="1" height="7.0"/><rect x="653" y="440.0" width="3" height="2.0"/><rect x="644" y="430.0" width="1" height="4.0"/><rect x="643" y="431.0" width="3" height="3.0"/><rect x="639" y="433.0" width="1" height="6.0"/><rect x="638" y="433.0" width="3" height="4.0"/><rect x="635" y="434.0" width="1" height="11.0"/><rect x="634" y="436.0" width="3" height="9.0"/><rect x="630" y="441.0" width="1" height="10.0"/><rect x="629" y="447.0" width="3" height="1.0"/><rect x="625" y="442.0" width="1" height="8.0"/><rect x="624" y="443.0" width="3" height="6.0"/><rect x="620" y="436.0" width="1" height="29.0"/><rect x="619" y="448.0" width="3" height="16.0"/><rect x="606" y="445.0" width="1" height="6.0"/><rect x="605" y="447.0" width="3" height="3.0"/><rect x="602" y="449.0" width="1" height="8.0"/><rect x="601" y="450.0" width="3" height="5.0"/><rect x="578" y="445.0" width="1" height="8.0"/><rect x="577" y="446.0" width="3" height="7.0"/><rect x="573" y="443.0" width="1" height="47.0"/><rect x="572" y="452.0" width="3" height="32.0"/><rect x="568" y="482.0" width="1" height="5.0"/><rect x="567" y="483.0" width="3" height="3.0"/><rect x="545" y="471.0" width="1" height="10.0"/><rect x="544" y="472.0" width="3" height="8.0"/><rect x="521" y="467.0" width="1" height="8.0"/><rect x="520" y="468.0" width="3" height="7.0"/><rect x="517" y="466.0" width="1" height="16.0"/><rect x="516" y="474.0" width="3" height="8.0"/><rect x="512" y="481.0" width="1" height="9.0"/><rect x="511" y="482.0" width="3" height="6.0"/><rect x="507" y="486.0" width="1" height="8.0"/><rect x="506" y="487.0" width="3" height="6.0"/><rect x="502" y="492.0" width="1" height="7.0"/><rect x="501" y="493.0" width="3" height="4.0"/><rect x="479" y="474.0" width="1" height="4.0"/><rect x="478" y="474.0" width="3" height="3.0"/><rect x="474" y="475.0" width="1" height="10.0"/><rect x="473" y="476.0" width="3" height="7.0"/><rect x="450" y="459.0" width="1" height="11.0"/><rect x="449" y="467.0" width="3" height="2.0"/><rect x="446" y="465.0" width="1" height="21.0"/><rect x="445" y="466.0" width="3" height="19.0"/><rect x="427" y="470.0" width="1" height="11.0"/><rect x="426" y="470.0" width="3" height="2.0"/><rect x="417" y="468.0" width="1" height="6.0"/><rect x="416" y="470.0" width="3" height="3.0"/><rect x="413" y="471.0" width="1" height="10.0"/><rect x="412" y="472.0" width="3" height="7.0"/><rect x="394" y="460.0" width="1" height="13.0"/><rect x="393" y="461.0" width="3" height="11.0"/><rect x="379" y="455.0" width="1" height="6.0"/><rect x="378" y="456.0" width="3" height="4.0"/><rect x="365" y="453.0" width="1" height="10.0"/><rect x="364" y="456.0" width="3" height="7.0"/><rect x="361" y="457.0" width="1" height="11.0"/><rect x="360" y="462.0" width="3" height="6.0"/><rect x="351" y="465.0" width="1" height="4.0"/><rect x="350" y="466.0" width="3" height="2.0"/><rect x="342" y="460.0" width="1" height="22.0"/><rect x="341" y="466.0" width="3" height="4.0"/><rect x="332" y="460.0" width="1" height="12.0"/><rect x="331" y="462.0" width="3" height="6.0"/><rect x="327" y="460.0" width="1" height="9.0"/><rect x="326" y="464.0" width="3" height="2.0"/><rect x="318" y="460.0" width="1" height="13.0"/><rect x="317" y="465.0" width="3" height="3.0"/><rect x="285" y="421.0" width="1" height="22.0"/><rect x="284" y="426.0" width="3" height="4.0"/><rect x="280" y="423.0" width="1" height="17.0"/><rect x="279" y="429.0" width="3" height="8.0"/><rect x="271" y="422.0" width="1" height="8.0"/><rect x="270" y="423.0" width="3" height="6.0"/><rect x="261" y="417.0" width="1" height="16.0"/><rect x="260" y="424.0" width="3" height="3.0"/><rect x="257" y="424.0" width="1" height="11.0"/><rect x="256" y="425.0" width="3" height="9.0"/><rect x="252" y="430.0" width="1" height="14.0"/><rect x="251" y="433.0" width="3" height="10.0"/><rect x="242" y="427.0" width="1" height="18.0"/><rect x="241" y="428.0" width="3" height="16.0"/><rect x="238" y="438.0" width="1" height="15.0"/><rect x="237" y="442.0" width="3" height="9.0"/><rect x="223" y="442.0" width="1" height="15.0"/><rect x="222" y="444.0" width="3" height="10.0"/><rect x="205" y="438.0" width="1" height="5.0"/><rect x="204" y="438.0" width="3" height="4.0"/><rect x="195" y="433.0" width="1" height="34.0"/><rect x="194" y="434.0" width="3" height="32.0"/><rect x="186" y="445.0" width="1" height="7.0"/><rect x="185" y="447.0" width="3" height="1.0"/><rect x="176" y="443.0" width="1" height="4.0"/><rect x="175" y="444.0" width="3" height="2.0"/><rect x="171" y="443.0" width="1" height="6.0"/><rect x="170" y="444.0" width="3" height="4.0"/><rect x="167" y="437.0" width="1" height="19.0"/><rect x="166" y="445.0" width="3" height="6.0"/><rect x="162" y="449.0" width="1" height="14.0"/><rect x="161" y="450.0" width="3" height="12.0"/><rect x="143" y="455.0" width="1" height="6.0"/><rect x="142" y="456.0" width="3" height="4.0"/><rect x="138" y="457.0" width="1" height="16.0"/><rect x="137" y="459.0" width="3" height="9.0"/><rect x="134" y="462.0" width="1" height="48.0"/><rect x="133" y="467.0" width="3" height="41.0"/><rect x="129" y="505.0" width="1" height="15.0"/><rect x="128" y="507.0" width="3" height="13.0"/><rect x="119" y="511.0" width="1" height="12.0"/><rect x="118" y="514.0" width="3" height="4.0"/><rect x="101" y="497.0" width="1" height="15.0"/><rect x="100" y="503.0" width="3" height="4.0"/><rect x="96" y="500.0" width="1" height="13.0"/><rect x="95" y="504.0" width="3" height="8.0"/><rect x="91" y="509.0" width="1" height="13.0"/><rect x="90" y="511.0" width="3" height="11.0"/><rect x="86" y="520.0" width="1" height="14.0"/><rect x="85" y="520.0" width="3" height="14.0"/><rect x="72" y="480.0" width="1" height="7.0"/><rect x="71" y="482.0" width="3" height="4.0"/><rect x="63" y="480.0" width="1" height="9.0"/><rect x="62" y="485.0" width="3" height="1.0"/><rect x="58" y="483.0" width="1" height="5.0"/><rect x="57" y="485.0" width="3" height="2.0"/><rect x="53" y="482.0" width="1" height="10.0"/><rect x="52" y="487.0" width="3" height="5.0"/><rect x="49" y="480.0" width="1" height="17.0"/><rect x="48" y="490.0" width="3" height="6.0"/><rect x="39" y="489.0" width="1" height="11.0"/><rect x="38" y="494.0" width="3" height="4.0"/><rect x="25" y="493.0" width="1" height="7.0"/><rect x="24" y="494.0" width="3" height="4.0"/><rect x="15" y="474.0" width="1" height="6.0"/><rect x="14" y="476.0" width="3" height="4.0"/></g>
<g fill="#f23645"><rect x="1339" y="69.0" width="1" height="16.0"/><rect x="1338" y="69.0" width="3" height="12.0"/><rect x="1315" y="119.0" width="1" height="9.0"/><rect x="1314" y="122.0" width="3" height="6.0"/><rect x="1311" y="108.0" width="1" height="14.0"/><rect x="1310" y="109.0" width="3" height="13.0"/><rect x="1287" y="133.0" width="1" height="13.0"/><rect x="1286" y="138.0" width="3" height="4.0"/><rect x="1278" y="130.0" width="1" height="29.0"/><rect x="1277" y="133.0" width="3" height="15.0"/><rect x="1263" y="134.0" width="1" height="18.0"/><rect x="1262" y="140.0" width="3" height="7.0"/><rect x="1254" y="139.0" width="1" height="23.0"/><rect x="1253" y="143.0" width="3" height="10.0"/><rect x="1249" y="116.0" width="1" height="28.0"/><rect x="1248" y="120.0" width="3" height="24.0"/><rect x="1244" y="113.0" width="1" height="12.0"/><rect x="1243" y="113.0" width="3" height="8.0"/><rect x="1230" y="119.0" width="1" height="7.0"/><rect x="1229" y="124.0" width="3" height="1.0"/><rect x="1226" y="106.0" width="1" height="27.0"/><rect x="1225" y="111.0" width="3" height="14.0"/><rect x="1221" y="104.0" width="1" height="17.0"/><rect x="1220" y="107.0" width="3" height="6.0"/><rect x="1207" y="128.0" width="1" height="17.0"/><rect x="1206" y="137.0" width="3" height="2.0"/><rect x="1155" y="212.0" width="1" height="9.0"/><rect x="1154" y="215.0" width="3" height="4.0"/><rect x="1140" y="221.0" width="1" height="6.0"/><rect x="1139" y="221.0" width="3" height="6.0"/><rect x="1131" y="200.0" width="1" height="35.0"/><rect x="1130" y="204.0" width="3" height="22.0"/><rect x="1117" y="203.0" width="1" height="14.0"/><rect x="1116" y="203.0" width="3" height="9.0"/><rect x="1107" y="170.0" width="1" height="50.0"/><rect x="1106" y="190.0" width="3" height="18.0"/><rect x="1098" y="201.0" width="1" height="9.0"/><rect x="1097" y="203.0" width="3" height="1.0"/><rect x="1093" y="188.0" width="1" height="17.0"/><rect x="1092" y="191.0" width="3" height="14.0"/><rect x="1088" y="182.0" width="1" height="15.0"/><rect x="1087" y="182.0" width="3" height="11.0"/><rect x="1074" y="174.0" width="1" height="19.0"/><rect x="1073" y="179.0" width="3" height="10.0"/><rect x="1055" y="193.0" width="1" height="4.0"/><rect x="1054" y="193.0" width="3" height="4.0"/><rect x="1041" y="222.0" width="1" height="7.0"/><rect x="1040" y="222.0" width="3" height="3.0"/><rect x="1036" y="222.0" width="1" height="9.0"/><rect x="1035" y="222.0" width="3" height="2.0"/><rect x="1027" y="223.0" width="1" height="6.0"/><rect x="1026" y="223.0" width="3" height="6.0"/><rect x="1022" y="222.0" width="1" height="2.0"/><rect x="1021" y="223.0" width="3" height="1.0"/><rect x="1018" y="218.0" width="1" height="6.0"/><rect x="1017" y="222.0" width="3" height="1.0"/><rect x="1013" y="215.0" width="1" height="12.0"/><rect x="1012" y="220.0" width="3" height="5.0"/><rect x="1008" y="216.0" width="1" height="12.0"/><rect x="1007" y="220.0" width="3" height="1.0"/><rect x="1003" y="213.0" width="1" height="7.0"/><rect x="1002" y="216.0" width="3" height="4.0"/><rect x="994" y="229.0" width="1" height="4.0"/><rect x="993" y="229.0" width="3" height="4.0"/><rect x="980" y="234.0" width="1" height="13.0"/><rect x="979" y="234.0" width="3" height="13.0"/><rect x="975" y="228.0" width="1" height="13.0"/><rect x="974" y="233.0" width="3" height="3.0"/><rect x="970" y="219.0" width="1" height="15.0"/><rect x="969" y="222.0" width="3" height="12.0"/><rect x="961" y="218.0" width="1" height="12.0"/><rect x="960" y="223.0" width="3" height="3.0"/><rect x="956" y="212.0" width="1" height="16.0"/><rect x="955" y="219.0" width="3" height="5.0"/><rect x="932" y="222.0" width="1" height="13.0"/><rect x="931" y="222.0" width="3" height="13.0"/><rect x="928" y="198.0" width="1" height="38.0"/><rect x="927" y="220.0" width="3" height="3.0"/><rect x="918" y="210.0" width="1" height="18.0"/><rect x="917" y="222.0" width="3" height="2.0"/><rect x="909" y="229.0" width="1" height="7.0"/><rect x="908" y="229.0" width="3" height="3.0"/><rect x="904" y="225.0" width="1" height="8.0"/><rect x="903" y="227.0" width="3" height="3.0"/><rect x="885" y="262.0" width="1" height="12.0"/><rect x="884" y="267.0" width="3" height="7.0"/><rect x="876" y="264.0" width="1" height="7.0"/><rect x="875" y="264.0" width="3" height="7.0"/><rect x="857" y="292.0" width="1" height="12.0"/><rect x="856" y="294.0" width="3" height="10.0"/><rect x="843" y="297.0" width="1" height="9.0"/><rect x="842" y="299.0" width="3" height="4.0"/><rect x="824" y="291.0" width="1" height="42.0"/><rect x="823" y="291.0" width="3" height="28.0"/><rect x="819" y="288.0" width="1" height="9.0"/><rect x="818" y="290.0" width="3" height="3.0"/><rect x="814" y="277.0" width="1" height="15.0"/><rect x="813" y="288.0" width="3" height="1.0"/><rect x="791" y="312.0" width="1" height="7.0"/><rect x="790" y="312.0" width="3" height="7.0"/><rect x="772" y="345.0" width="1" height="19.0"/><rect x="771" y="346.0" width="3" height="15.0"/><rect x="748" y="360.0" width="1" height="9.0"/><rect x="747" y="361.0" width="3" height="7.0"/><rect x="734" y="382.0" width="1" height="7.0"/><rect x="733" y="385.0" width="3" height="1.0"/><rect x="729" y="381.0" width="1" height="6.0"/><rect x="728" y="381.0" width="3" height="6.0"/><rect x="715" y="413.0" width="1" height="8.0"/><rect x="714" y="415.0" width="3" height="2.0"/><rect x="706" y="410.0" width="1" height="7.0"/><rect x="705" y="412.0" width="3" height="5.0"/><rect x="701" y="407.0" width="1" height="7.0"/><rect x="700" y="407.0" width="3" height="7.0"/><rect x="677" y="428.0" width="1" height="10.0"/><rect x="676" y="428.0" width="3" height="6.0"/><rect x="672" y="425.0" width="1" height="5.0"/><rect x="671" y="427.0" width="3" height="2.0"/><rect x="658" y="438.0" width="1" height="9.0"/><rect x="657" y="440.0" width="3" height="5.0"/><rect x="649" y="430.0" width="1" height="12.0"/><rect x="648" y="431.0" width="3" height="10.0"/><rect x="616" y="452.0" width="1" height="13.0"/><rect x="615" y="453.0" width="3" height="11.0"/><rect x="611" y="446.0" width="1" height="9.0"/><rect x="610" y="447.0" width="3" height="7.0"/><rect x="597" y="451.0" width="1" height="4.0"/><rect x="596" y="452.0" width="3" height="2.0"/><rect x="592" y="451.0" width="1" height="6.0"/><rect x="591" y="451.0" width="3" height="3.0"/><rect x="587" y="448.0" width="1" height="4.0"/><rect x="586" y="449.0" width="3" height="3.0"/><rect x="583" y="447.0" width="1" height="2.0"/><rect x="582" y="447.0" width="3" height="1.0"/><rect x="564" y="479.0" width="1" height="7.0"/><rect x="563" y="480.0" width="3" height="5.0"/><rect x="559" y="475.0" width="1" height="7.0"/><rect x="558" y="476.0" width="3" height="5.0"/><rect x="554" y="474.0" width="1" height="3.0"/><rect x="553" y="475.0" width="3" height="1.0"/><rect x="550" y="472.0" width="1" height="5.0"/><rect x="549" y="472.0" width="3" height="5.0"/><rect x="540" y="473.0" width="1" height="14.0"/><rect x="539" y="474.0" width="3" height="7.0"/><rect x="535" y="472.0" width="1" height="6.0"/><rect x="534" y="473.0" width="3" height="2.0"/><rect x="531" y="469.0" width="1" height="6.0"/><rect x="530" y="469.0" width="3" height="6.0"/><rect x="526" y="465.0" width="1" height="4.0"/><rect x="525" y="467.0" width="3" height="2.0"/><rect x="498" y="493.0" width="1" height="4.0"/><rect x="497" y="494.0" width="3" height="3.0"/><rect x="493" y="488.0" width="1" height="8.0"/><rect x="492" y="489.0" width="3" height="7.0"/><rect x="488" y="474.0" width="1" height="16.0"/><rect x="487" y="475.0" width="3" height="15.0"/><rect x="483" y="470.0" width="1" height="5.0"/><rect x="482" y="472.0" width="3" height="2.0"/><rect x="469" y="479.0" width="1" height="4.0"/><rect x="468" y="480.0" width="3" height="3.0"/><rect x="465" y="478.0" width="1" height="5.0"/><rect x="464" y="478.0" width="3" height="3.0"/><rect x="460" y="468.0" width="1" height="13.0"/><rect x="459" y="469.0" width="3" height="10.0"/><rect x="455" y="465.0" width="1" height="6.0"/><rect x="454" y="467.0" width="3" height="4.0"/><rect x="441" y="477.0" width="1" height="11.0"/><rect x="440" y="478.0" width="3" height="7.0"/><rect x="436" y="475.0" width="1" height="4.0"/><rect x="435" y="475.0" width="3" height="3.0"/><rect x="431" y="473.0" width="1" height="6.0"/><rect x="430" y="474.0" width="3" height="2.0"/><rect x="422" y="469.0" width="1" height="9.0"/><rect x="421" y="470.0" width="3" height="4.0"/><rect x="408" y="476.0" width="1" height="5.0"/><rect x="407" y="477.0" width="3" height="2.0"/><rect x="403" y="473.0" width="1" height="10.0"/><rect x="402" y="474.0" width="3" height="3.0"/><rect x="398" y="459.0" width="1" height="20.0"/><rect x="397" y="460.0" width="3" height="14.0"/><rect x="389" y="457.0" width="1" height="14.0"/><rect x="388" y="458.0" width="3" height="12.0"/><rect x="384" y="446.0" width="1" height="15.0"/><rect x="383" y="456.0" width="3" height="4.0"/><rect x="375" y="457.0" width="1" height="8.0"/><rect x="374" y="460.0" width="3" height="1.0"/><rect x="370" y="449.0" width="1" height="13.0"/><rect x="369" y="455.0" width="3" height="6.0"/><rect x="356" y="464.0" width="1" height="7.0"/><rect x="355" y="465.0" width="3" height="3.0"/><rect x="346" y="466.0" width="1" height="3.0"/><rect x="345" y="467.0" width="3" height="1.0"/><rect x="337" y="462.0" width="1" height="15.0"/><rect x="336" y="462.0" width="3" height="7.0"/><rect x="323" y="465.0" width="1" height="7.0"/><rect x="322" y="465.0" width="3" height="3.0"/><rect x="313" y="456.0" width="1" height="16.0"/><rect x="312" y="461.0" width="3" height="7.0"/><rect x="309" y="453.0" width="1" height="12.0"/><rect x="308" y="459.0" width="3" height="4.0"/><rect x="304" y="442.0" width="1" height="18.0"/><rect x="303" y="443.0" width="3" height="15.0"/><rect x="299" y="432.0" width="1" height="19.0"/><rect x="298" y="432.0" width="3" height="11.0"/><rect x="294" y="422.0" width="1" height="11.0"/><rect x="293" y="427.0" width="3" height="5.0"/><rect x="290" y="426.0" width="1" height="4.0"/><rect x="289" y="427.0" width="3" height="1.0"/><rect x="275" y="423.0" width="1" height="17.0"/><rect x="274" y="423.0" width="3" height="15.0"/><rect x="266" y="423.0" width="1" height="17.0"/><rect x="265" y="424.0" width="3" height="5.0"/><rect x="247" y="428.0" width="1" height="19.0"/><rect x="246" y="428.0" width="3" height="16.0"/><rect x="233" y="448.0" width="1" height="4.0"/><rect x="232" y="449.0" width="3" height="2.0"/><rect x="228" y="442.0" width="1" height="8.0"/><rect x="227" y="444.0" width="3" height="5.0"/><rect x="219" y="446.0" width="1" height="13.0"/><rect x="218" y="447.0" width="3" height="7.0"/><rect x="214" y="443.0" width="1" height="7.0"/><rect x="213" y="444.0" width="3" height="2.0"/><rect x="209" y="438.0" width="1" height="9.0"/><rect x="208" y="438.0" width="3" height="8.0"/><rect x="200" y="433.0" width="1" height="11.0"/><rect x="199" y="433.0" width="3" height="10.0"/><rect x="190" y="446.0" width="1" height="21.0"/><rect x="189" y="447.0" width="3" height="19.0"/><rect x="181" y="440.0" width="1" height="9.0"/><rect x="180" y="444.0" width="3" height="4.0"/><rect x="157" y="456.0" width="1" height="8.0"/><rect x="156" y="457.0" width="3" height="6.0"/><rect x="153" y="456.0" width="1" height="14.0"/><rect x="152" y="456.0" width="3" height="2.0"/><rect x="148" y="450.0" width="1" height="13.0"/><rect x="147" y="455.0" width="3" height="2.0"/><rect x="124" y="507.0" width="1" height="13.0"/><rect x="123" y="515.0" width="3" height="5.0"/><rect x="115" y="513.0" width="1" height="5.0"/><rect x="114" y="515.0" width="3" height="2.0"/><rect x="110" y="510.0" width="1" height="6.0"/><rect x="109" y="510.0" width="3" height="6.0"/><rect x="105" y="500.0" width="1" height="15.0"/><rect x="104" y="502.0" width="3" height="10.0"/><rect x="82" y="515.0" width="1" height="20.0"/><rect x="81" y="516.0" width="3" height="18.0"/><rect x="77" y="481.0" width="1" height="36.0"/><rect x="76" y="482.0" width="3" height="34.0"/><rect x="67" y="481.0" width="1" height="7.0"/><rect x="66" y="484.0" width="3" height="3.0"/><rect x="44" y="483.0" width="1" height="13.0"/><rect x="43" y="492.0" width="3" height="3.0"/><rect x="34" y="493.0" width="1" height="7.0"/><rect x="33" y="496.0" width="3" height="2.0"/><rect x="30" y="493.0" width="1" height="5.0"/><rect x="29" y="494.0" width="3" height="3.0"/><rect x="20" y="475.0" width="1" height="30.0"/><rect x="19" y="477.0" width="3" height="20.0"/><rect x="11" y="470.0" width="1" height="10.0"/><rect x="10" y="471.0" width="3" height="9.0"/></g>
</g>
<text x="972.4" y="58.5" font-size="17.3" font-weight="700" fill="#000" textLength="132.4" lengthAdjust="spacingAndGlyphs">Next Resistance</text>
<text x="972.4" y="76.6" font-size="17.3" font-weight="700" fill="#000" textLength="110.7" lengthAdjust="spacingAndGlyphs">$3853-$3880</text>
<text x="1396.3" y="176.4" font-size="17.3" font-weight="700" fill="#000" textLength="182" lengthAdjust="spacingAndGlyphs">Immediate Resistance</text>
<text x="1396.3" y="194.3" font-size="17.3" font-weight="700" fill="#000" textLength="51" lengthAdjust="spacingAndGlyphs">$3835</text>
<text x="1403.1" y="415.3" font-size="17.3" font-weight="700" fill="#000" textLength="158.5" lengthAdjust="spacingAndGlyphs">Immediate Support</text>
<text x="1403.1" y="433.6" font-size="17.3" font-weight="700" fill="#000" textLength="51" lengthAdjust="spacingAndGlyphs">$3805</text>
<text x="1367.4" y="508.5" font-size="17.3" font-weight="700" fill="#000" textLength="109" lengthAdjust="spacingAndGlyphs">Next Support</text>
<text x="1367.4" y="526.9" font-size="17.3" font-weight="700" fill="#000" textLength="170" lengthAdjust="spacingAndGlyphs">$3787-$3777-$3754</text>
<line x1="11" y1="80.6" x2="1601" y2="80.6" stroke="#f23645" stroke-width="1" stroke-dasharray="1 2"/>
<rect x="11" y="592.5" width="1590" height="22" fill="#f1eefa"/>
<line x1="11" y1="592.5" x2="1601" y2="592.5" stroke="#5d606b" stroke-width="1" stroke-dasharray="6 5"/>
<line x1="11" y1="603.3" x2="1601" y2="603.3" stroke="#5d606b" stroke-width="1" stroke-dasharray="6 5"/>
<line x1="11" y1="614.4" x2="1601" y2="614.4" stroke="#5d606b" stroke-width="1" stroke-dasharray="6 5"/>
<polyline points="11.0,608.8 20.5,612.9 35.6,612.3 49.3,608.8 63.0,606.8 72.6,606.0 76.7,614.2 81.6,617.5 87.7,612.9 100.0,606.8 112.3,609.6 124.7,609.6 128.8,604.7 132.9,596.4 142.5,594.2 156.2,595.9 164.4,593.2 178.1,592.3 186.3,595.9 191.8,600.5 195.9,595.9 208.2,598.6 219.2,600.5 227.4,598.6 232.9,599.7 242.5,595.9 247.9,600.5 257.5,597.0 271.2,596.4 276.7,600.5 284.9,598.6 290.4,598.6 295.9,601.4 304.1,607.4 317.8,609.3 328.8,608.8 332.9,607.4 337.0,608.8 356.2,607.4 364.4,603.8 372.6,604.7 380.8,603.3 389.0,607.4 394.5,604.7 400.0,608.2 408.2,609.6 416.4,606.6 427.4,607.4 435.6,609.6 441.1,611.5 443.8,604.7 452.1,603.3 460.0,607.4 463.3,607.7 473.3,607.7 481.7,604.3 490.0,610.7 500.0,612.7 506.7,610.0 520.0,600.0 526.7,599.3 530.0,602.7 536.7,603.3 540.0,605.0 543.3,601.7 556.7,605.0 560.0,606.0 566.7,606.0 571.7,595.0 580.0,594.3 593.4,596.7 605.0,595.0 616.7,602.4 623.4,597.7 640.1,593.3 648.4,597.7 656.7,599.0 666.7,595.0 676.7,597.7 695.1,590.7 703.4,594.3 715.1,595.0 720.1,589.0 726.8,590.0 740.1,586.7 748.5,590.0 763.5,588.3 768.5,586.7 773.5,593.3 783.5,587.7 793.5,589.0 810.2,585.7 818.5,586.7 823.5,596.0 836.9,593.3 843.5,594.3 851.9,592.3 858.5,595.7 866.9,590.0 873.5,591.7 885.2,593.3 896.9,588.3 906.9,589.3 915.2,588.3 926.9,589.3 933.6,594.3 950.3,591.0 958.6,593.3 965.3,594.3 980.3,603.4 985.3,599.0 993.6,599.0 1000.3,595.7 1010.3,597.7 1023.6,599.0 1027.0,600.7 1032.0,598.3 1040.3,599.0 1047.0,591.7 1057.0,592.3 1060.0,591.0 1070.0,590.0 1075.0,594.3 1083.3,592.3 1093.4,601.7 1098.4,601.0 1101.7,597.7 1106.7,603.4 1110.0,601.7 1118.4,604.4 1125.0,602.7 1130.0,607.7 1135.1,606.7 1140.1,607.7 1145.1,604.0 1153.4,605.7 1160.1,599.0 1173.4,597.3 1183.4,593.3 1196.8,589.3 1208.4,589.3 1216.8,585.7 1225.1,591.7 1233.4,591.7 1240.1,590.0 1250.1,600.0 1255.1,602.4 1260.1,600.0 1263.5,601.0 1268.5,599.0 1273.5,599.0 1278.5,603.4 1281.8,600.7 1290.2,601.0 1300.2,600.0 1305.2,595.0 1313.5,599.0 1318.5,598.3 1325.2,594.3 1333.5,590.7 1338.5,593.3" fill="none" stroke="#434651" stroke-width="1.1" stroke-linejoin="round"/>
<text x="20" y="604" font-size="14" fill="#131722" textLength="88" lengthAdjust="spacingAndGlyphs">RSI (14)&#160;&#160;67.89</text>
<line x1="11" y1="581.25" x2="1668" y2="581.25" stroke="#e6e8ef" stroke-width="1.4"/>
<rect x="10.8" y="10.7" width="1657.2" height="643.5999999999999" fill="none" stroke="#eceef4" stroke-width="1.8"/>
<text x="1610.5" y="554.1" font-size="13.5" fill="#131722" textLength="47.8" lengthAdjust="spacingAndGlyphs">3250.00</text>
<text x="1610.5" y="512.8" font-size="13.5" fill="#131722" textLength="47.8" lengthAdjust="spacingAndGlyphs">3300.00</text>
<text x="1610.5" y="471.4" font-size="13.5" fill="#131722" textLength="47.8" lengthAdjust="spacingAndGlyphs">3350.00</text>
<text x="1610.5" y="430.0" font-size="13.5" fill="#131722" textLength="47.8" lengthAdjust="spacingAndGlyphs">3400.00</text>
<text x="1610.5" y="388.7" font-size="13.5" fill="#131722" textLength="47.8" lengthAdjust="spacingAndGlyphs">3450.00</text>
<text x="1610.5" y="347.3" font-size="13.5" fill="#131722" textLength="47.8" lengthAdjust="spacingAndGlyphs">3500.00</text>
<text x="1610.5" y="306.0" font-size="13.5" fill="#131722" textLength="47.8" lengthAdjust="spacingAndGlyphs">3550.00</text>
<text x="1610.5" y="264.6" font-size="13.5" fill="#131722" textLength="47.8" lengthAdjust="spacingAndGlyphs">3600.00</text>
<text x="1610.5" y="223.3" font-size="13.5" fill="#131722" textLength="47.8" lengthAdjust="spacingAndGlyphs">3650.00</text>
<text x="1610.5" y="182.0" font-size="13.5" fill="#131722" textLength="47.8" lengthAdjust="spacingAndGlyphs">3700.00</text>
<text x="1610.5" y="140.6" font-size="13.5" fill="#131722" textLength="47.8" lengthAdjust="spacingAndGlyphs">3750.00</text>
<text x="1610.5" y="99.2" font-size="13.5" fill="#131722" textLength="47.8" lengthAdjust="spacingAndGlyphs">3800.00</text>
<text x="1610.5" y="57.9" font-size="13.5" fill="#131722" textLength="47.8" lengthAdjust="spacingAndGlyphs">3850.00</text>
<g clip-path="url(#ax)"><text x="1610.5" y="16.1" font-size="13.5" fill="#131722" textLength="47.8" lengthAdjust="spacingAndGlyphs">3900.00</text></g>
<defs><clipPath id="ax"><rect x="1602" y="11.4" width="65" height="60"/></clipPath></defs>
<path d="M1601,71 H1662.7 A2,2 0 0 1 1664.7,73 V87.5 A2,2 0 0 1 1662.7,89.5 H1601 Z" fill="#f23645"/>
<text x="1611" y="85" font-size="13.5" fill="#fff" textLength="48" lengthAdjust="spacingAndGlyphs">3817.20</text>
<text x="115.4" y="642.6" font-size="13.5" fill="#131722" text-anchor="middle" font-weight="700" textLength="22.3" lengthAdjust="spacingAndGlyphs">Aug</text>
<text x="232.0" y="642.6" font-size="13.5" fill="#131722" text-anchor="middle" textLength="6.8" lengthAdjust="spacingAndGlyphs">7</text>
<text x="350.0" y="642.6" font-size="13.5" fill="#131722" text-anchor="middle" textLength="13.6" lengthAdjust="spacingAndGlyphs">13</text>
<text x="467.7" y="642.6" font-size="13.5" fill="#131722" text-anchor="middle" textLength="13.6" lengthAdjust="spacingAndGlyphs">19</text>
<text x="582.3" y="642.6" font-size="13.5" fill="#131722" text-anchor="middle" textLength="13.6" lengthAdjust="spacingAndGlyphs">23</text>
<text x="734.4" y="642.6" font-size="13.5" fill="#131722" text-anchor="middle" font-weight="700" textLength="22.3" lengthAdjust="spacingAndGlyphs">Sep</text>
<text x="846.5" y="642.6" font-size="13.5" fill="#131722" text-anchor="middle" textLength="6.8" lengthAdjust="spacingAndGlyphs">5</text>
<text x="964.3" y="642.6" font-size="13.5" fill="#131722" text-anchor="middle" textLength="13.6" lengthAdjust="spacingAndGlyphs">11</text>
<text x="1083.3" y="642.6" font-size="13.5" fill="#131722" text-anchor="middle" textLength="13.6" lengthAdjust="spacingAndGlyphs">17</text>
<text x="1201.8" y="642.6" font-size="13.5" fill="#131722" text-anchor="middle" textLength="13.6" lengthAdjust="spacingAndGlyphs">23</text>
<text x="1376.2" y="642.6" font-size="13.5" fill="#131722" text-anchor="middle" font-weight="700" textLength="22.3" lengthAdjust="spacingAndGlyphs">Oct</text>
<text x="1489.5" y="642.6" font-size="13.5" fill="#131722" text-anchor="middle" textLength="6.8" lengthAdjust="spacingAndGlyphs">5</text>
<text x="20" y="32.8" font-size="14" fill="#131722" textLength="251.8" lengthAdjust="spacingAndGlyphs">Gold US Dollars per Ounce Spot Prices, 4h</text>
<text x="280.7" y="32.8" font-size="14" fill="#131722" textLength="8.8" lengthAdjust="spacingAndGlyphs">O</text>
<text x="290.6" y="32.8" font-size="14" fill="#f23645" textLength="46.3" lengthAdjust="spacingAndGlyphs">3829.06</text>
<text x="345.8" y="32.8" font-size="14" fill="#131722" textLength="7.8" lengthAdjust="spacingAndGlyphs">H</text>
<text x="355" y="32.8" font-size="14" fill="#f23645" textLength="45.8" lengthAdjust="spacingAndGlyphs">3830.52</text>
<text x="410.4" y="32.8" font-size="14" fill="#131722" textLength="5.9" lengthAdjust="spacingAndGlyphs">L</text>
<text x="417.6" y="32.8" font-size="14" fill="#f23645" textLength="46.3" lengthAdjust="spacingAndGlyphs">3809.40</text>
<text x="472.1" y="32.8" font-size="14" fill="#131722" textLength="7.5" lengthAdjust="spacingAndGlyphs">C</text>
<text x="480.3" y="32.8" font-size="14" fill="#f23645" textLength="47.1" lengthAdjust="spacingAndGlyphs">3817.20</text>
<text x="536.6" y="32.8" font-size="14" fill="#f23645" textLength="95" lengthAdjust="spacingAndGlyphs">−11.83 (−0.31%)</text>
<text x="20" y="51.7" font-size="14" fill="#131722" textLength="108.4" lengthAdjust="spacingAndGlyphs">MA (100, close, 0)</text>
<text x="136.7" y="51.7" font-size="14" fill="#2196f3" textLength="47.2" lengthAdjust="spacingAndGlyphs">3687.55</text>
<text x="20" y="70.7" font-size="14" fill="#131722" textLength="168" lengthAdjust="spacingAndGlyphs">Ichimoku (9, 26, 52, 26, 26)</text>
<text x="196.4" y="70.7" font-size="14" fill="#2196f3" textLength="47.5" lengthAdjust="spacingAndGlyphs">3787.24</text>
<text x="252.2" y="70.7" font-size="14" fill="#801922" textLength="47.1" lengthAdjust="spacingAndGlyphs">3774.48</text>
<text x="20" y="89.6" font-size="14" fill="#131722" textLength="108.4" lengthAdjust="spacingAndGlyphs">MA (200, close, 0)</text>
<text x="136.7" y="89.6" font-size="14" fill="#000" textLength="47.2" lengthAdjust="spacingAndGlyphs">3548.42</text>
<text x="20" y="108.5" font-size="14" fill="#131722" textLength="108.4" lengthAdjust="spacingAndGlyphs">EMA (50, close, 0)</text>
<text x="136.7" y="108.5" font-size="14" fill="#ff9800" textLength="47.2" lengthAdjust="spacingAndGlyphs">3735.72</text>
<text x="20" y="127.5" font-size="14" fill="#131722" textLength="101.3" lengthAdjust="spacingAndGlyphs">EMA (5, close, 0)</text>
<text x="129.7" y="127.5" font-size="14" fill="#f23645" textLength="47.5" lengthAdjust="spacingAndGlyphs">3805.26</text>
<g fill="#131722"><path d="M11,667.5 h9.5 v10.5 h-5.4 v-6.1 h-4.1 z"/><circle cx="23.5" cy="669.6" r="2.1"/><path d="M27,667.5 h6.4 l-4,10.5 h-5.4 z"/></g>
<text x="38" y="678.8" font-size="15.1" fill="#131722" textLength="78.8" lengthAdjust="spacingAndGlyphs">TradingView</text>
</svg>
</body></html>
